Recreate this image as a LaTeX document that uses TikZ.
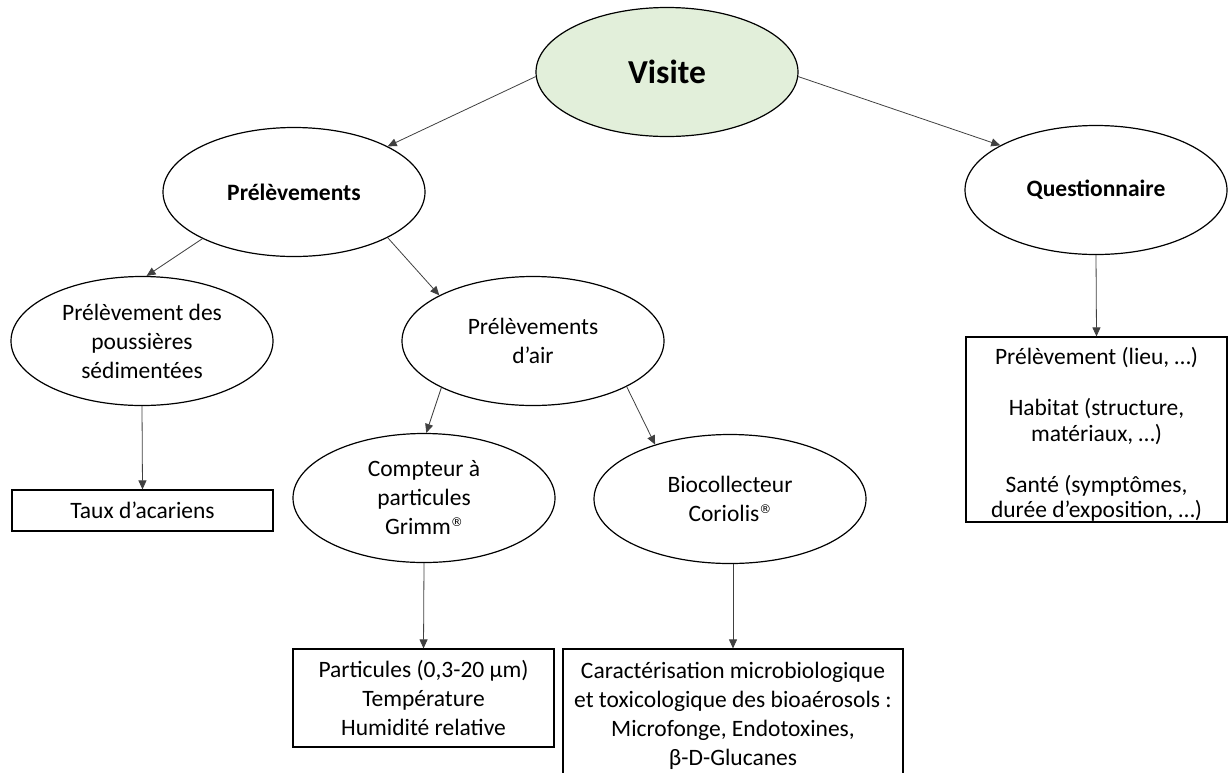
\documentclass[tikz,border=0pt]{standalone}
\usepackage{fontspec}
\setmainfont{Carlito}
\newfontfamily\regfont{DejaVu Sans}
\usetikzlibrary{shapes.geometric,arrows.meta}
\definecolor{visgreen}{HTML}{E2EFDA}
\newcommand{\regmark}{\raisebox{8pt}{\regfont\fontsize{12}{12}\selectfont ®}}
\begin{document}
\begin{tikzpicture}[x=1pt,y=-1pt,
  every node/.style={font=\fontsize{23.5}{29}\selectfont},
  oval/.style={ellipse,draw,line width=1.2pt,minimum width=262pt,minimum height=129pt,inner sep=0pt,align=center},
  boldtxt/.style={font=\fontsize{23.5}{29}\selectfont\bfseries},
  box/.style={rectangle,draw,line width=1.2pt,inner sep=0pt,align=center},
  link/.style={draw=black!75,line width=0.8pt,-{Triangle[length=9pt,width=8pt]}}]
\useasboundingbox (0,0) rectangle (1228,772);
\clip (0,0) rectangle (1228,772);

\node[oval,fill=visgreen,font=\fontsize{33.5}{40}\selectfont\bfseries] (visite) at (667,72) {Visite};
\node[oval,boldtxt] (prel) at (294,192) {Prélèvements};
\node[oval,boldtxt] (quest) at (1096,190) {Questionnaire};
\node[oval] (pouss) at (142,341) {Prélèvement des\\poussières\\sédimentées};
\node[oval] (air) at (533,341) {Prélèvements\\d’air};
\node[oval] (comp) at (424,498) {Compteur à\\particules\\Grimm\regmark};
\node[oval,minimum width=272pt] (bio) at (730,499) {Biocollecteur\\Coriolis\regmark};

\node[box,minimum width=261pt,minimum height=41pt] (taux) at (142.5,510.5) {Taux d’acariens};
\node[box,minimum width=261pt,minimum height=98pt] (part) at (423.5,698) {Particules (0,3-20 µm)\\Température\\Humidité relative};
\node[box,minimum width=340pt,minimum height=133pt] (carac) at (733,715.5) {Caractérisation microbiologique\\et toxicologique des bioaérosols :\\Microfonge, Endotoxines,\\β-D-Glucanes};
\node[box,minimum width=261pt,minimum height=185pt,font=\fontsize{23.5}{25.5}\selectfont] (qbox) at (1096.5,429.5) {\rule{0pt}{27pt}Prélèvement (lieu, …)\\[25.5pt]Habitat (structure,\\matériaux, …)\\[25.5pt]Santé (symptômes,\\durée d’exposition, …)};

\draw[link] (visite.182) -- (prel.26);
\draw[link] (visite.358) -- (quest.155);
\draw[link] (prel.207) -- (pouss.86);
\draw[link] (prel.334) -- (air.154);
\draw[link] (air.207) -- (comp.88);
\draw[link] (air.334) -- (bio.144);
\draw[link] (pouss.south) -- (taux.north);
\draw[link] (comp.south) -- (part.north);
\draw[link] (bio.south -| carac.north) -- (carac.north);
\draw[link] (quest.south) -- (qbox.north);
\end{tikzpicture}
\end{document}
